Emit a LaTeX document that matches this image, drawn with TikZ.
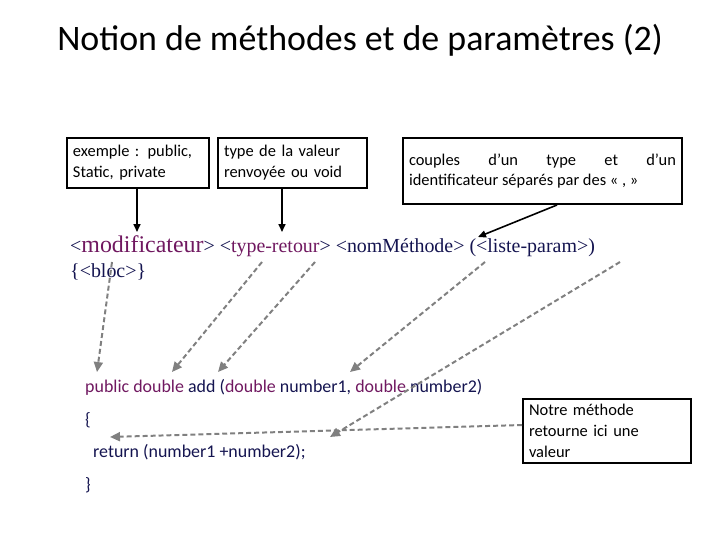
\documentclass[tikz,border=0pt]{standalone}
\usepackage{fontspec}
\setmainfont{Carlito}
\newfontfamily\serifnom{Liberation Serif}
\usetikzlibrary{arrows.meta}
\definecolor{mauve}{RGB}{112,24,96}
\definecolor{nuit}{RGB}{20,20,80}
\tikzset{
  notebox/.style={draw,line width=2pt,inner sep=5pt,align=left,anchor=north west,font=\fontsize{16.5}{21}\selectfont},
  fleche/.style={-{Triangle[length=8pt,width=7pt]},line width=1.6pt},
  renvoi/.style={-{Triangle[length=10pt,width=9pt]},gray,line width=2pt,dash pattern=on 5pt off 3pt},
  code/.style={anchor=west,inner sep=0pt,font=\fontsize{18}{20}\selectfont}
}
\begin{document}
\begin{tikzpicture}[x=1bp,y=-1bp]
\useasboundingbox (0,0) rectangle (720,540);
\node[font=\fontsize{36}{40}\selectfont] (titre) at (360,40) {Notion de méthodes et de paramètres (2)};

% boites du haut
\node[notebox,minimum width=142bp,minimum height=50bp,text width=130bp] (modif) at (66,137) {exemple : public,\\Static, private};
\node[notebox,minimum width=149bp,minimum height=50bp,text width=137bp] (retour) at (217,137) {type de la valeur\\renvoyée ou void};
\node[notebox,minimum width=279bp,minimum height=66bp,text width=267bp,align=justify] (couples) at (402,137) {couples \hfill d'un \hfill type \hfill et \hfill d'un\\identificateur séparés par des « , »};

% syntaxe
\node[anchor=west,inner sep=0pt,font=\serifnom\fontsize{20}{22}\selectfont] (syntaxe) at (70,246)
  {\textcolor{nuit}{<}\textcolor{mauve}{\fontsize{24}{26}\selectfont modificateur}\textcolor{nuit}{>} \textcolor{nuit}{<}\textcolor{mauve}{type-retour}\textcolor{nuit}{>} \textcolor{nuit}{<nomMéthode> (<liste-param>)}};
\node[anchor=west,inner sep=0pt,font=\serifnom\fontsize{20}{22}\selectfont,text=nuit] (bloc) at (70,272) {\{<bloc>\}};

% code
\node[code] (entete) at (85,387) {\textcolor{mauve}{public double} \textcolor{nuit}{add (}\textcolor{mauve}{double} \textcolor{nuit}{number1,} \textcolor{mauve}{double} \textcolor{nuit}{number2)}};
\node[code,text=nuit] (ouvre) at (85,420) {\{};
\node[code,text=nuit] (corps) at (93,452) {return (number1 +number2);};
\node[code,text=nuit] (ferme) at (85,485) {\}};
\node[notebox,minimum width=168bp,minimum height=64bp,text width=156bp,inner sep=4pt] (notre) at (522,398) {Notre méthode\\retourne ici une\\valeur};

% fleches pleines
\draw[fleche] (modif.south -| 137,0) -- (137,232);
\draw[fleche] (retour.south -| 282,0) -- (282,232);
\draw[fleche] (couples.south -| 557,0) -- (478,237);

% renvois pointilles
\coordinate (m1) at (112,262);
\coordinate (m2) at (262,262);
\coordinate (m3) at (315,262);
\coordinate (m4) at (485,262);
\coordinate (m5) at (620,262);
\draw[renvoi] (m1) -- (97,372);
\draw[renvoi] (m2) -- (172,372);
\draw[renvoi] (m3) -- (218,372);
\draw[renvoi] (m4) -- (350,372);
\draw[renvoi] (m5) -- (330,437);
\draw[renvoi] (notre.west |- 0,425) -- (110,437);
\end{tikzpicture}
\end{document}
